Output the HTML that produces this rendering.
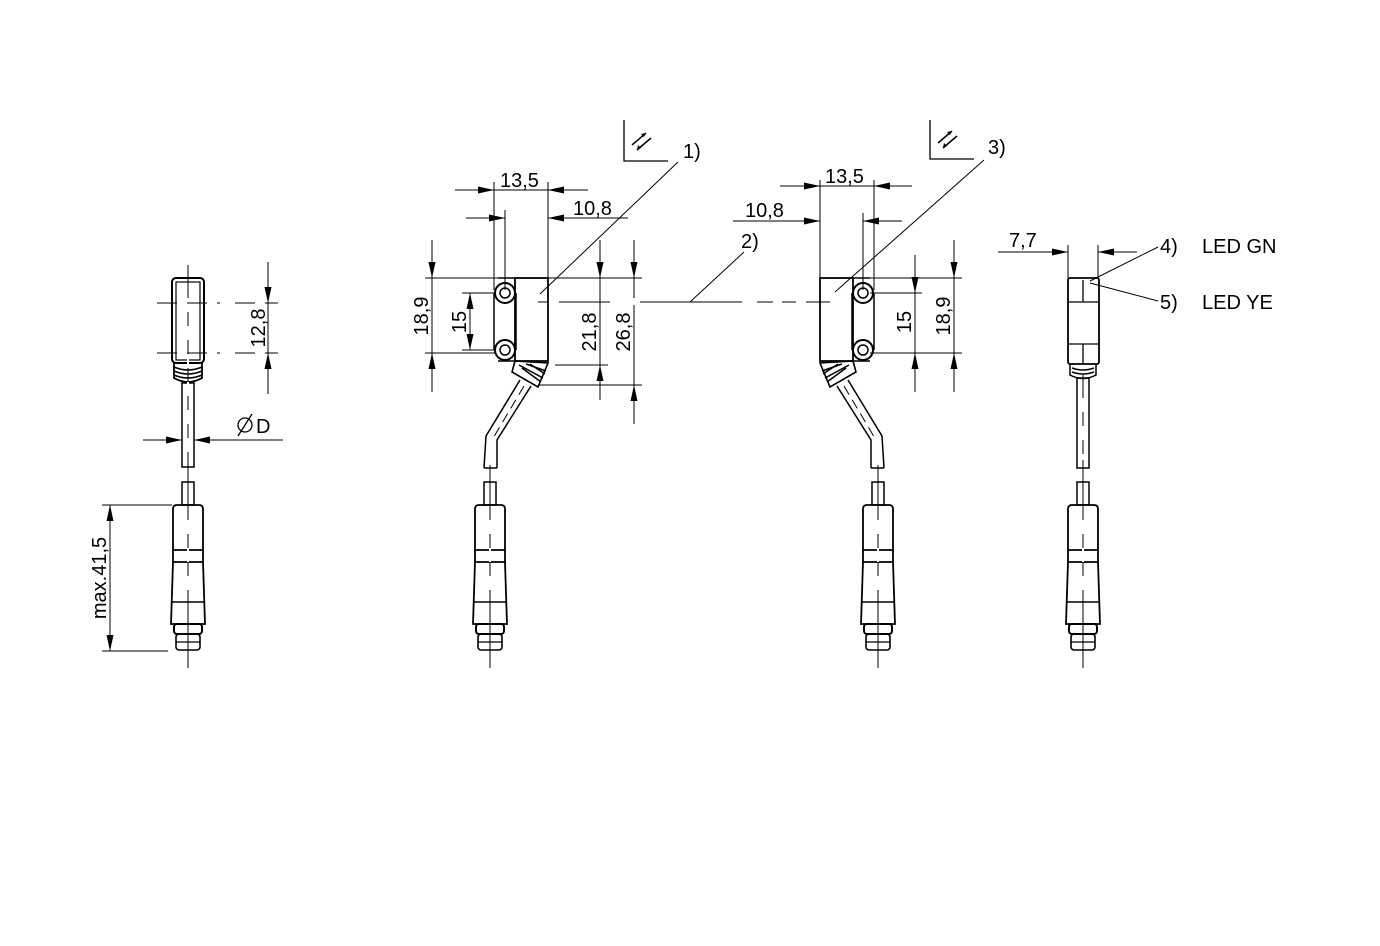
<!DOCTYPE html>
<html><head><meta charset="utf-8"><style>
html,body{margin:0;padding:0;background:#fff;width:1380px;height:946px;overflow:hidden}
svg{display:block}
text{font-family:"Liberation Sans",Arial,sans-serif;font-size:20px;fill:#000}
</style></head><body>
<svg width="1380" height="946" viewBox="0 0 1380 946" xmlns="http://www.w3.org/2000/svg">
<defs>
<marker id="a" viewBox="0 0 16 7" refX="16" refY="3.5" markerWidth="16" markerHeight="7" orient="auto" markerUnits="userSpaceOnUse"><path d="M0,0 L16,3.5 L0,7 z" fill="#000"/></marker>
<g id="conn" fill="none" stroke="#000">
  <rect x="-6" y="0" width="12" height="23" stroke-width="1.5"/>
  <path d="M-15,27 Q-15,23 -11,23 L11,23 Q15,23 15,27 L15,68 L-15,68 Z" stroke-width="1.8"/>
  <path d="M-15,68 L-15,80 L15,80 L15,68" stroke-width="1.8"/>
  <path d="M-15,80 L-17,142 L17,142 L15,80" stroke-width="1.8"/>
  <line x1="-16" y1="120" x2="16" y2="120" stroke-width="1.5"/>
  <rect x="-14" y="142" width="28" height="10" rx="3" stroke-width="2"/>
  <rect x="-12" y="152" width="24" height="16" rx="3" stroke-width="1.6"/>
  <line x1="-12" y1="160" x2="12" y2="160" stroke-width="1.2"/>
  <line x1="0" y1="-14" x2="0" y2="186" stroke-width="1"/>
  <line x1="0" y1="30" x2="0" y2="110" stroke="#fff" stroke-width="2" stroke-dasharray="0 8 14 6"/>
</g>
<g id="sens" fill="none" stroke="#000">
  <rect x="515" y="278" width="33" height="83" stroke-width="1.8"/>
  <path d="M494,293 L494,350 M516,293 L516,350 M498,278 L515,278 M498,361 L515,361" stroke-width="1.5"/>
  <circle cx="505" cy="293" r="10" stroke-width="2"/>
  <circle cx="505" cy="293" r="5" stroke-width="1.5"/>
  <circle cx="505" cy="350" r="10" stroke-width="2"/>
  <circle cx="505" cy="350" r="5" stroke-width="1.5"/>
  <path d="M515,361 L548,363 L538,387 L512,372 Z" stroke-width="1.6"/>
  <path d="M519,365 L543,378 M522,368 L541,382 M526,364 L546,371 M530,364 L545,374" stroke-width="1.5"/>
  <path d="M520,380 L486,436 L484,468 M531,386 L497,440 L497,468 M484,468 L497,468" stroke-width="1.5"/>
  <path d="M524,386 L492,440" stroke-width="1" stroke-dasharray="10 6"/>
  <line x1="490" y1="465" x2="490" y2="478" stroke-width="1"/>
</g>
</defs>

<!-- LEFT VIEW -->
<g fill="none" stroke="#000">
  <rect x="172" y="278" width="32" height="85" rx="4" stroke-width="2"/>
  <rect x="176" y="282" width="24" height="78" stroke-width="1.2"/>
  <path d="M174,363 L174,378 Q188,386 202,378 L202,363" stroke-width="1.8"/>
  <path d="M174,367 Q188,373 202,367 M174,371 Q188,377 202,371 M174,375 Q188,381 202,375" stroke-width="1.5"/>
  <rect x="182" y="383" width="12" height="84" stroke-width="1.5"/>
  <line x1="188" y1="265" x2="188" y2="480" stroke-width="1"/>
  <line x1="188" y1="290" x2="188" y2="460" stroke="#fff" stroke-width="2" stroke-dasharray="0 8 14 6"/>
  <path d="M157,303 L220,303 M235,303 L278,303 M157,353 L220,353 M235,353 L278,353" stroke-width="1" stroke-dasharray="20 10"/>
  <line x1="268" y1="262" x2="268" y2="303" stroke-width="1" marker-end="url(#a)"/>
  <line x1="268" y1="394" x2="268" y2="353" stroke-width="1" marker-end="url(#a)"/>
  <line x1="268" y1="303" x2="268" y2="353" stroke-width="1"/>
  <line x1="143" y1="440" x2="182" y2="440" stroke-width="1" marker-end="url(#a)"/>
  <line x1="283" y1="440" x2="194" y2="440" stroke-width="1" marker-end="url(#a)"/>
  <line x1="102" y1="505" x2="172" y2="505" stroke-width="1"/>
  <line x1="102" y1="651" x2="168" y2="651" stroke-width="1"/>
  <line x1="110" y1="578" x2="110" y2="505" stroke-width="1" marker-end="url(#a)"/>
  <line x1="110" y1="578" x2="110" y2="651" stroke-width="1" marker-end="url(#a)"/>
  <circle cx="245" cy="425" r="7" stroke-width="1.3"/>
  <line x1="238" y1="436" x2="252" y2="414" stroke-width="1.3"/>
</g>
<use href="#conn" x="188" y="482"/>
<text transform="translate(265,328) rotate(-90)" text-anchor="middle">12,8</text>
<text x="256" y="433">D</text>
<text transform="translate(106,578) rotate(-90)" text-anchor="middle">max.41,5</text>

<!-- MIDDLE LEFT SENSOR -->
<use href="#sens"/>
<use href="#conn" x="490" y="482"/>
<g fill="none" stroke="#000" stroke-width="1">
  <path d="M494,182 L494,290 M548,182 L548,278 M505,210 L505,290"/>
  <line x1="455" y1="190" x2="494" y2="190" marker-end="url(#a)"/>
  <line x1="588" y1="190" x2="548" y2="190" marker-end="url(#a)"/>
  <line x1="494" y1="190" x2="548" y2="190"/>
  <line x1="466" y1="218" x2="505" y2="218" marker-end="url(#a)"/>
  <line x1="628" y1="218" x2="548" y2="218" marker-end="url(#a)"/>
  <path d="M425,278 L642,278 M425,353 L495,353 M462,293 L495,293 M462,350 L495,350 M555,365 L608,365 M538,385 L642,385"/>
  <line x1="432" y1="240" x2="432" y2="278" marker-end="url(#a)"/>
  <line x1="432" y1="392" x2="432" y2="353" marker-end="url(#a)"/>
  <line x1="432" y1="278" x2="432" y2="353"/>
  <line x1="470" y1="322" x2="470" y2="293" marker-end="url(#a)"/>
  <line x1="470" y1="322" x2="470" y2="350" marker-end="url(#a)"/>
  <line x1="600" y1="240" x2="600" y2="278" marker-end="url(#a)"/>
  <line x1="600" y1="400" x2="600" y2="365" marker-end="url(#a)"/>
  <line x1="600" y1="278" x2="600" y2="365"/>
  <line x1="634" y1="240" x2="634" y2="278" marker-end="url(#a)"/>
  <line x1="634" y1="424" x2="634" y2="385" marker-end="url(#a)"/>
  <path d="M634,278 L634,298 M634,305 L634,385"/>
  <line x1="540" y1="294" x2="678" y2="162"/>
  <path d="M538,302 L548,302 M559,302 L610,302 M640,302 L742,302 M757,302 L773,302 M782,302 L796,302 M806,302 L830,302"/>
  <line x1="690" y1="302" x2="744" y2="252"/>
  <path d="M624,120 L624,161 L668,161" stroke-width="1.3"/>
  <path d="M632,145 L646,133 M637,150 L651,138" stroke-width="1.5"/>
  <path d="M930,120 L930,159 L974,159" stroke-width="1.3"/>
  <path d="M938,143 L952,131 M943,148 L957,136" stroke-width="1.5"/>
</g>
<path d="M646,133 L641,134 L644,137 Z M637,150 L638,145 L641,148 Z M952,131 L947,132 L950,135 Z M943,148 L944,143 L947,146 Z" fill="#000"/>
<text x="500" y="187">13,5</text>
<text x="573" y="215">10,8</text>
<text transform="translate(428,316) rotate(-90)" text-anchor="middle">18,9</text>
<text transform="translate(466,322) rotate(-90)" text-anchor="middle">15</text>
<text transform="translate(596,332) rotate(-90)" text-anchor="middle">21,8</text>
<text transform="translate(630,332) rotate(-90)" text-anchor="middle">26,8</text>
<text x="683" y="158">1)</text>
<text x="741" y="248">2)</text>

<!-- MIDDLE RIGHT SENSOR -->
<use href="#sens" transform="translate(1368,0) scale(-1,1)"/>
<use href="#conn" x="878" y="482"/>
<g fill="none" stroke="#000" stroke-width="1">
  <path d="M820,180 L820,278 M874,180 L874,290 M863,213 L863,290"/>
  <line x1="780" y1="186" x2="820" y2="186" marker-end="url(#a)"/>
  <line x1="912" y1="186" x2="874" y2="186" marker-end="url(#a)"/>
  <line x1="820" y1="186" x2="874" y2="186"/>
  <line x1="733" y1="221" x2="820" y2="221" marker-end="url(#a)"/>
  <line x1="902" y1="221" x2="863" y2="221" marker-end="url(#a)"/>
  <path d="M868,278 L962,278 M870,293 L922,293 M870,353 L962,353"/>
  <line x1="915" y1="255" x2="915" y2="293" marker-end="url(#a)"/>
  <line x1="915" y1="392" x2="915" y2="353" marker-end="url(#a)"/>
  <line x1="915" y1="293" x2="915" y2="353"/>
  <line x1="954" y1="240" x2="954" y2="278" marker-end="url(#a)"/>
  <line x1="954" y1="392" x2="954" y2="353" marker-end="url(#a)"/>
  <line x1="954" y1="278" x2="954" y2="353"/>
  <line x1="835" y1="292" x2="984" y2="160"/>
</g>
<text x="825" y="183">13,5</text>
<text x="745" y="217">10,8</text>
<text transform="translate(911,322) rotate(-90)" text-anchor="middle">15</text>
<text transform="translate(950,316) rotate(-90)" text-anchor="middle">18,9</text>
<text x="988" y="154">3)</text>

<!-- RIGHT SIDE VIEW -->
<g fill="none" stroke="#000">
  <rect x="1068" y="278" width="31" height="86" rx="2" stroke-width="1.8"/>
  <path d="M1068,302 L1099,302 M1068,344 L1099,344 M1083,280 L1083,302 M1083,344 L1083,364" stroke-width="1.3"/>
  <path d="M1070,364 L1070,375 Q1083,382 1096,375 L1096,364 M1072,368 Q1083,372 1094,368 M1072,372 Q1083,376 1094,372" stroke-width="1.5"/>
  <rect x="1077" y="378" width="12" height="90" stroke-width="1.5"/>
  <line x1="1083" y1="375" x2="1083" y2="480" stroke-width="1"/>
  <line x1="1083" y1="390" x2="1083" y2="460" stroke="#fff" stroke-width="2" stroke-dasharray="0 8 14 6"/>
  <path d="M1068,245 L1068,278 M1098,245 L1098,278" stroke-width="1"/>
  <line x1="998" y1="252" x2="1068" y2="252" stroke-width="1" marker-end="url(#a)"/>
  <line x1="1137" y1="252" x2="1098" y2="252" stroke-width="1" marker-end="url(#a)"/>
  <line x1="1090" y1="281" x2="1158" y2="247" stroke-width="1"/>
  <line x1="1090" y1="283" x2="1158" y2="301" stroke-width="1"/>
</g>
<use href="#conn" x="1083" y="482"/>
<text x="1009" y="247">7,7</text>
<text x="1160" y="253">4)</text>
<text x="1202" y="253">LED GN</text>
<text x="1160" y="309">5)</text>
<text x="1202" y="309">LED YE</text>
</svg>
</body></html>
